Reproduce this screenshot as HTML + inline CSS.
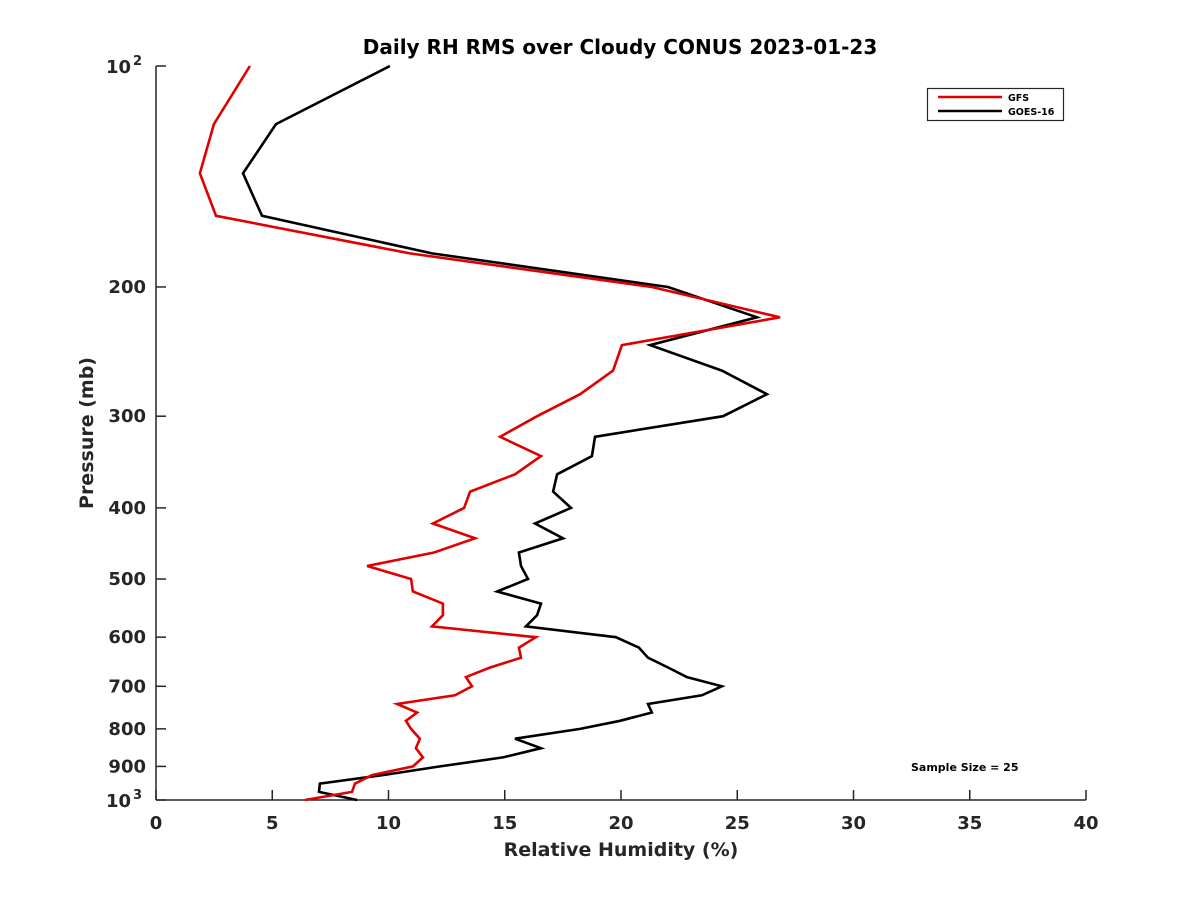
<!DOCTYPE html>
<html><head><meta charset="utf-8"><style>
body{margin:0;background:#fff}
svg{display:block;font-family:"DejaVu Sans","Liberation Sans",sans-serif;font-weight:bold}
</style></head><body>
<svg width="1200" height="900" viewBox="0 0 1200 900">
<rect width="1200" height="900" fill="#fff"/>
<text x="620" y="54" font-size="20" text-anchor="middle" fill="#000">Daily RH RMS over Cloudy CONUS 2023-01-23</text>
<g id="axes"></g>
<g id="series"></g>
<text x="93" y="433" font-size="19" text-anchor="middle" fill="#262626" transform="rotate(-90 93 433)">Pressure (mb)</text>
<text x="621" y="856" font-size="19" text-anchor="middle" fill="#262626">Relative Humidity (%)</text>
<g>
<rect x="927.5" y="88.5" width="136" height="32" fill="#fff" stroke="#262626" stroke-width="1.2"/>
<line x1="938" y1="97" x2="1002" y2="97" stroke="#e00000" stroke-width="2.5"/>
<text x="1008" y="101" font-size="9.5" fill="#000">GFS</text>
<line x1="938" y1="111" x2="1002" y2="111" stroke="#000" stroke-width="2.5"/>
<text x="1008" y="115" font-size="9.5" fill="#000">GOES-16</text>
</g>
<text x="911" y="771" font-size="11" fill="#000">Sample Size = 25</text>
</svg>
<script>
const pressureLevels=[100,120,140,160,180,200,220,240,260,280,300,320,340,360,380,400,420,440,460,480,500,520,540,560,580,600,620,640,660,680,700,720,740,760,780,800,825,850,875,900,925,950,975,1000];
const gfsRH=[4.04,2.49,1.89,2.58,10.92,21.33,26.84,20.04,19.66,18.24,16.39,14.80,16.56,15.44,13.51,13.25,11.91,13.72,11.96,9.08,10.97,11.05,12.34,12.34,11.87,16.34,15.61,15.70,14.37,13.33,13.59,12.86,10.37,11.23,10.75,10.97,11.35,11.18,11.48,11.05,9.29,8.56,8.43,6.41];
const goesRH=[10.06,5.16,3.74,4.56,11.87,22.02,25.85,21.25,24.34,26.28,24.39,18.88,18.75,17.25,17.08,17.85,16.30,17.51,15.61,15.70,16.00,14.67,16.56,16.39,15.91,19.78,20.77,21.16,22.02,22.84,24.34,23.48,21.16,21.33,19.96,18.24,15.44,16.56,14.92,12.22,9.76,7.05,7.01,8.65];
const xTicks=[0,5,10,15,20,25,30,35,40];
const yTicks=[100,200,300,400,500,600,700,800,900,1000];
const yTickLabels=["10|2","200","300","400","500","600","700","800","900","10|3"];
const NS="http://www.w3.org/2000/svg";
const X0=156,X1=1086,Y0=66,Y1=800;
function xs(v){return X0+(v-0)/(40-0)*(X1-X0);}
function ys(p){return Y0+Math.log10(p/100)*(Y1-Y0);}
function mk(tag,attrs,parent){const e=document.createElementNS(NS,tag);for(const k in attrs)e.setAttribute(k,attrs[k]);parent.appendChild(e);return e;}
const axes=document.getElementById('axes');
let l=mk('line',{x1:X0,y1:Y0,x2:X0,y2:Y1,stroke:'#262626','stroke-width':1.5},axes);


l=mk('line',{x1:X0,y1:Y1,x2:X1,y2:Y1,stroke:'#262626','stroke-width':1.5},axes);


xTicks.forEach(v=>{
  const t=mk('line',{x1:xs(v),y1:Y1,x2:xs(v),y2:Y1-10,stroke:'#262626','stroke-width':1.5},axes);
  
  
  const tx=mk('text',{x:xs(v),y:Y1+29,'font-size':18,'text-anchor':'middle',fill:'#262626'},axes);
  tx.textContent=v;
  
  
});
yTicks.forEach((p,i)=>{
  const t=mk('line',{x1:X0,y1:ys(p),x2:X0+10,y2:ys(p),stroke:'#262626','stroke-width':1.5},axes);
  
  
  const lab=yTickLabels[i];
  if(lab.indexOf('|')>=0){
    const parts=lab.split('|');
    const tx=mk('text',{x:X0-25,y:ys(p)+7,'font-size':18,'text-anchor':'end',fill:'#262626'},axes);
    tx.textContent=parts[0];
    
    
    const sx=mk('text',{x:X0-14,y:ys(p)-1,'font-size':13,'text-anchor':'end',fill:'#262626'},axes);
    sx.textContent=parts[1];
    
    
  } else {
    const tx=mk('text',{x:X0-10,y:ys(p)+6,'font-size':18,'text-anchor':'end',fill:'#262626'},axes);
    tx.textContent=lab;
    
    
  }
});
const ser=document.getElementById('series');
function line(vals,color,name){
  const pts=vals.map((v,i)=>xs(v).toFixed(1)+','+ys(pressureLevels[i]).toFixed(1)).join(' ');
  const pl=mk('polyline',{points:pts,fill:'none',stroke:color,'stroke-width':2.6,'stroke-linejoin':'miter'},ser);
  
  
}
line(goesRH,'#000','goes16-line');
line(gfsRH,'#e00000','gfs-line');
</script>
</body></html>
